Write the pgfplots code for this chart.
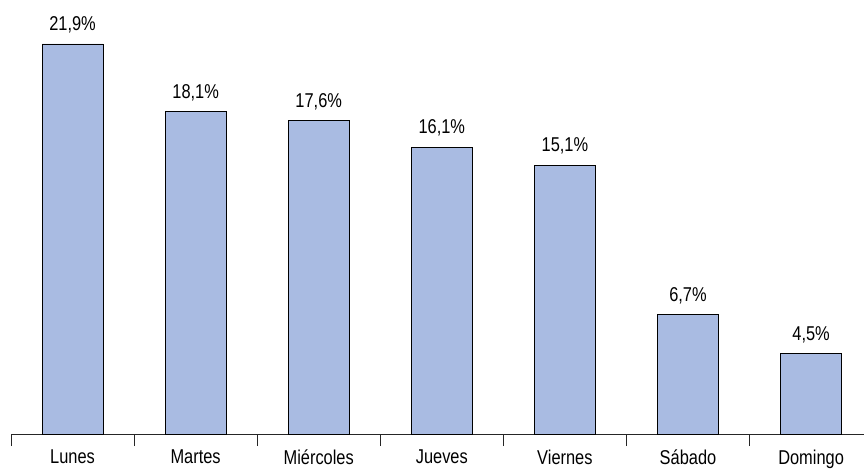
\documentclass[border=0pt]{standalone}
\usepackage{pgfplots}
\pgfplotsset{compat=1.18}
\usepackage{fontspec}
\setmainfont{Liberation Sans}[FakeStretch=0.82]
\definecolor{barblue}{RGB}{169,187,226}
\begin{document}
\begin{tikzpicture}
\begin{axis}[
  name=ax,
  scale only axis,
  width=853pt, height=434pt,
  xmin=-0.5, xmax=6.43,
  ymin=0, ymax=24.37,
  axis x line*=bottom,
  axis y line=none,
  axis line style={black!85, line width=0.9pt},
  xtick={0,...,6},
  xticklabels={Lunes,Martes,Miércoles,Jueves,Viernes,Sábado,Domingo},
  major tick length=0pt,
  minor xtick={-0.5,0.5,1.5,2.5,3.5,4.5,5.5},
  minor tick length=12pt,
  tick align=center,
  minor tick style={black!85, line width=0.9pt},
  xticklabel style={font=\fontsize{20}{23}\selectfont, yshift=-12pt, anchor=north},
  ybar, bar width=61pt,
  nodes near coords={\pgfmathprintnumber[assume math mode=true,use comma,fixed,fixed zerofill,precision=1]{\pgfplotspointmeta}\%},
  every node near coord/.append style={font=\fontsize{20}{23}\selectfont, yshift=7pt, black},
  clip=false,
]
\addplot[fill=barblue, draw=black, line width=0.8pt] coordinates {
  (0,21.9) (1,18.1) (2,17.6) (3,16.1) (4,15.1) (5,6.7) (6,4.5)
};
\end{axis}
\pgfresetboundingbox
\useasboundingbox ([xshift=-11pt,yshift=-35pt]ax.south west) rectangle (ax.north east);
\end{tikzpicture}
\end{document}
